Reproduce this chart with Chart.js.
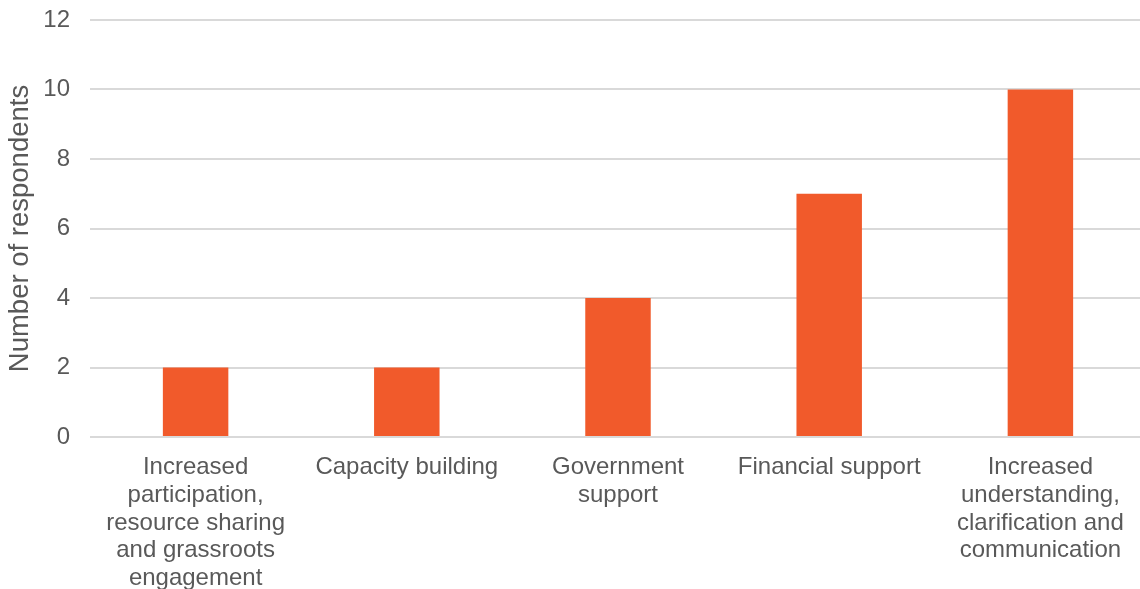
<!DOCTYPE html>
<html>
<head>
<meta charset="utf-8">
<script src="https://cdn.jsdelivr.net/npm/chart.js@4/dist/chart.umd.min.js"></script>
<style>
  html, body { margin: 0; padding: 0; background: #fff; overflow: hidden; }
  #wrap { width: 1146px; height: 589px; position: relative; }
</style>
</head>
<body>
<div id="wrap"><canvas id="graphe"></canvas></div>
<script>
// Catégories (libellés sur plusieurs lignes) et nombre de réponses
const categories = [
    ['Increased', 'participation,', 'resource sharing', 'and grassroots', 'engagement'],
    ['Capacity building'],
    ['Government', 'support'],
    ['Financial support'],
    ['Increased', 'understanding,', 'clarification and', 'communication'],
];
const respondents = [2, 2, 4, 7, 10];
const yTicks = [0, 2, 4, 6, 8, 10, 12];

const textColor = '#595959';
const font = { family: 'Liberation Sans, Arial, sans-serif', size: 24 };

new Chart(document.getElementById('graphe'), {
    type: 'bar',
    data: {
        labels: categories,
        datasets: [{
            data: respondents,
            backgroundColor: '#F15A2B',
            barPercentage: 0.62,
            categoryPercentage: 0.5,
        }],
    },
    options: {
        responsive: true,
        maintainAspectRatio: false,
        animation: false,
        layout: { padding: { top: 20, left: 4, right: 0, bottom: 0 } },
        plugins: { legend: { display: false }, tooltip: { enabled: false } },
        scales: {
            x: {
                grid: { display: false },
                border: { display: false },
                afterFit: (axis) => { axis.height = 152; },
                ticks: {
                    color: textColor,
                    font: { ...font, lineHeight: 1.15 },
                    maxRotation: 0,
                    autoSkip: false,
                    padding: 9,
                },
            },
            y: {
                min: 0,
                max: 12,
                afterBuildTicks: (axis) => { axis.ticks = yTicks.map(v => ({ value: v })); },
                afterFit: (axis) => {
                    axis.width = 86;
                    // pas de marge automatique pour l'étiquette du haut
                    axis.paddingTop = 0;
                    axis.paddingBottom = 0;
                },
                grid: { color: '#d9d9d9', lineWidth: 2, drawTicks: false },
                border: { display: false },
                ticks: { color: textColor, font, padding: 20 },
                title: {
                    display: true,
                    text: 'Number of respondents',
                    color: textColor,
                    font: { ...font, size: 27.5 },
                    padding: { top: 0, bottom: 6 },
                },
            },
        },
    },
});
</script>
</body>
</html>
